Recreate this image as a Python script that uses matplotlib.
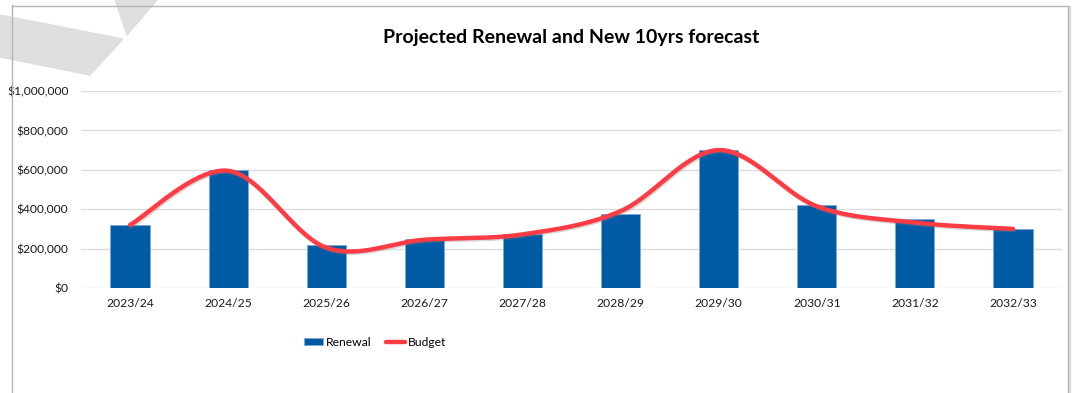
import matplotlib.pyplot as plt
import matplotlib.patheffects as pe
from matplotlib.patches import Polygon
from matplotlib.lines import Line2D
from matplotlib.ticker import FuncFormatter
import numpy as np

years = ['2023/24', '2024/25', '2025/26', '2026/27', '2027/28',
         '2028/29', '2029/30', '2030/31', '2031/32', '2032/33']
renewal = [320000, 600000, 220000, 250000, 275000,
           375000, 700000, 420000, 350000, 300000]
budget = [320000, 595000, 205000, 245000, 272000,
          390000, 700000, 415000, 332000, 300000]

W, H = 1077, 393
FONT = ['Lato', 'DejaVu Sans']
plt.rcParams['font.family'] = FONT


def smooth(x, y, n=40):
    """Bezier smoothing like spreadsheet 'smoothed line' (Catmull-Rom)"""
    x = np.asarray(x, float)
    y = np.asarray(y, float)
    px = np.concatenate([[x[0]], x, [x[-1]]])
    py = np.concatenate([[y[0]], y, [y[-1]]])
    xs, ys = [], []
    t = np.linspace(0, 1, n)
    for i in range(len(x) - 1):
        p0 = np.array([px[i + 1], py[i + 1]])
        p3 = np.array([px[i + 2], py[i + 2]])
        p1 = p0 + (np.array([px[i + 2], py[i + 2]]) - np.array([px[i], py[i]])) / 6
        p2 = p3 - (np.array([px[i + 3], py[i + 3]]) - np.array([px[i + 1], py[i + 1]])) / 6
        b = ((1 - t) ** 3)[:, None] * p0 + (3 * (1 - t) ** 2 * t)[:, None] * p1 \
            + (3 * (1 - t) * t ** 2)[:, None] * p2 + (t ** 3)[:, None] * p3
        xs.extend(b[:, 0])
        ys.extend(b[:, 1])
    return np.array(xs), np.array(ys)


fig = plt.figure(figsize=(W / 100, H / 100), dpi=100)


def fx(px):
    return px / W


def fy(py):
    return 1 - py / H


# grey decoration in the corner
grey = '#dedede'
fig.patches.append(Polygon([(fx(0), fy(15)), (fx(123), fy(39)), (fx(90), fy(75)), (fx(0), fy(57))],
                           closed=True, transform=fig.transFigure, color=grey, zorder=0))
fig.patches.append(Polygon([(fx(115), fy(0)), (fx(157), fy(0)), (fx(127), fy(35))],
                           closed=True, transform=fig.transFigure, color=grey, zorder=0))

# chart frame
frame = dict(transform=fig.transFigure, color='#b5b5b5', lw=1.0)
fig.lines.append(Line2D([fx(12), fx(12)], [fy(5), fy(393)], **frame))
fig.lines.append(Line2D([fx(12), fx(1068)], [fy(5.5), fy(5.5)], **frame))
fig.lines.append(Line2D([fx(1068), fx(1068)], [fy(5.5), fy(393)], **frame))
fig.lines.append(Line2D([fx(1070), fx(1070)], [fy(7), fy(393)], transform=fig.transFigure,
                        color='#d8d8d8', lw=1.5))

ax = fig.add_axes([fx(81), fy(288), (1062 - 81) / W, (288 - 91) / H])
x = np.arange(len(years))
bars = ax.bar(x, renewal, width=0.4, color='#005ba4', edgecolor='#7fa9d4', linewidth=0.6,
              label='Renewal', zorder=2)
sx, sy = smooth(x, budget)
line, = ax.plot(sx, sy, color='#ff3b44', lw=3.2, solid_capstyle='round', label='Budget', zorder=3,
                path_effects=[pe.SimpleLineShadow(offset=(0.8, -1.0), shadow_color='#808080', alpha=0.3),
                              pe.Normal()])

ax.set_xlim(-0.5, len(years) - 0.5)
ax.set_ylim(0, 1000000)
ax.set_yticks(np.arange(0, 1000001, 200000))
ax.yaxis.set_major_formatter(FuncFormatter(lambda v, p: '${:,.0f}'.format(v)))
ax.set_xticks(x)
ax.set_xticklabels(years)
ax.grid(axis='y', color='#dcdcdc', lw=1.0, zorder=0)
ax.set_axisbelow(True)
for s in ax.spines.values():
    s.set_visible(False)
ax.tick_params(length=0, labelsize=8.7, colors='#1a1a1a')
ax.tick_params(axis='y', pad=9)
ax.tick_params(axis='x', pad=7)

fig.text(fx(571), fy(38), 'Projected Renewal and New 10yrs forecast', ha='center', va='center',
         fontsize=14, fontweight='bold', color='#000000')

leg_line = Line2D([], [], color='#ff3b44', lw=3.2, solid_capstyle='round')
ax.legend([bars, leg_line], ['Renewal', 'Budget'], loc='center',
          bbox_to_anchor=(fx(375), fy(342)), bbox_transform=fig.transFigure,
          ncol=2, frameon=False, fontsize=8.7, handlelength=1.6, handletextpad=0.2,
          columnspacing=1.2, handleheight=0.5)

fig.savefig('out.png', dpi=100)
